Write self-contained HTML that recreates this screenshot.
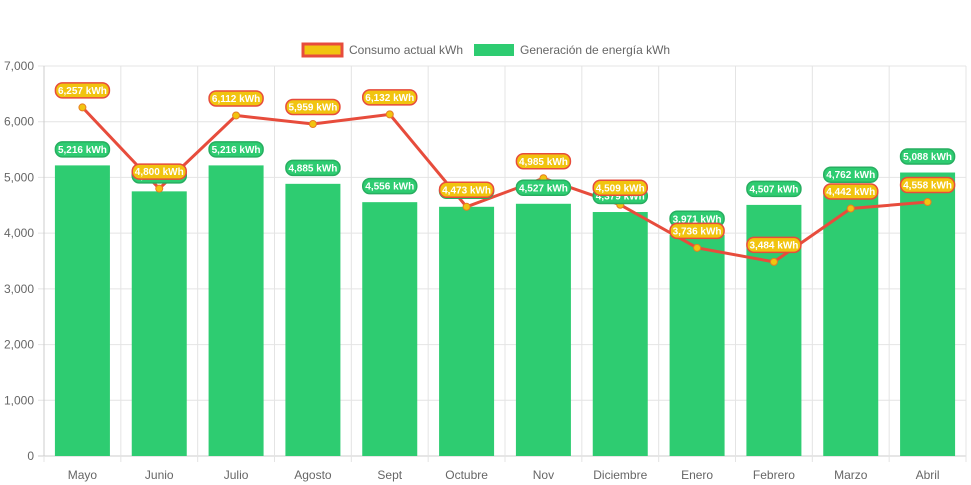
<!DOCTYPE html>
<html><head><meta charset="utf-8"><style>
body{margin:0;background:#fff;font-family:"Liberation Sans",sans-serif}
svg{display:block}
</style></head><body>
<svg id="c" width="971" height="485" xmlns="http://www.w3.org/2000/svg" font-family="Liberation Sans, sans-serif"></svg>
<script>
const categories=["Mayo","Junio","Julio","Agosto","Sept","Octubre","Nov","Diciembre","Enero","Febrero","Marzo","Abril"];
const generacion=[5216,4750,5216,4885,4556,4473,4527,4379,3971,4507,4762,5088];
const consumo=[6257,4800,6112,5959,6132,4473,4985,4509,3736,3484,4442,4558];
const yTicks=[0,1000,2000,3000,4000,5000,6000,7000];
const svg=document.getElementById('c');
const NS='http://www.w3.org/2000/svg';
const L=44,R=966,T=66,B=456,YMAX=7000;
const bw=(R-L)/categories.length;
function y(v){return B-(v/YMAX)*(B-T);}
function x(i){return L+bw*(i+0.5);}
function el(t,a,p){const e=document.createElementNS(NS,t);for(const k in a)e.setAttribute(k,a[k]);(p||svg).appendChild(e);return e;}
function fmt(v){return v.toLocaleString('en-US')+' kWh';}
// grid
yTicks.forEach(v=>{
 const g=el('line',{x1:L-6,x2:R,y1:y(v),y2:y(v),stroke:v===0?'#ccc':'#e4e4e4'});
 
 
 const t=el('text',{x:L-10,y:y(v)+4,'text-anchor':'end','font-size':12,fill:'#666'});
 t.textContent=v.toLocaleString('en-US');
 
 
});
for(let i=0;i<=categories.length;i++){
 const g=el('line',{x1:L+bw*i,x2:L+bw*i,y1:T,y2:B+6,stroke:'#e4e4e4'});
 
 
}
el('line',{x1:L,x2:L,y1:T,y2:B,stroke:'#ccc'});
categories.forEach((c,i)=>{
 const t=el('text',{x:x(i),y:B+23,'text-anchor':'middle','font-size':12,fill:'#666'});
 t.textContent=c;
 
 
});
// bars
const bWidth=55;
generacion.forEach((v,i)=>{
 const r=el('rect',{x:x(i)-bWidth/2,y:y(v),width:bWidth,height:B-y(v),fill:'#2ecc71'});
 
 
});
// line
let d='';consumo.forEach((v,i)=>{d+=(i?'L':'M')+x(i)+','+y(v);});
const pl=el('path',{d:d,fill:'none',stroke:'#e74c3c','stroke-width':3});


consumo.forEach((v,i)=>{
 const p=el('circle',{cx:x(i),cy:y(v),r:3.5,fill:'#f1c40f',stroke:'#e67e22','stroke-width':1});
 
 
});
function pill(cx,cy,txt,fill,stroke,name){
 const g=el('g',{});
 
 
 el('rect',{x:cx-27,y:cy-7.5,width:54,height:15,rx:7,fill:fill,stroke:stroke,'stroke-width':1.5},g);
 const t=el('text',{x:cx,y:cy+3.5,'text-anchor':'middle','font-size':10,'font-weight':'bold',fill:'#fff'},g);
 t.textContent=txt;
}
generacion.forEach((v,i)=>pill(x(i),y(v)-16,fmt(v),'#2ecc71','#27ae60','bar-value-label'));
consumo.forEach((v,i)=>pill(x(i),y(v)-17,fmt(v),'#f1c40f','#e74c3c','line-value-label'));
// legend
const lg=el('g',{});


const l1=el('g',{},lg);


el('rect',{x:303,y:44,width:39,height:12,fill:'#f1c40f',stroke:'#e74c3c','stroke-width':3},l1);
let t=el('text',{x:349,y:54,'font-size':12,fill:'#666'},l1);t.textContent='Consumo actual kWh';
const l2=el('g',{},lg);


el('rect',{x:474,y:44,width:40,height:12,fill:'#2ecc71'},l2);
t=el('text',{x:520,y:54,'font-size':12,fill:'#666'},l2);t.textContent='Generación de energía kWh';
</script>
</body></html>
